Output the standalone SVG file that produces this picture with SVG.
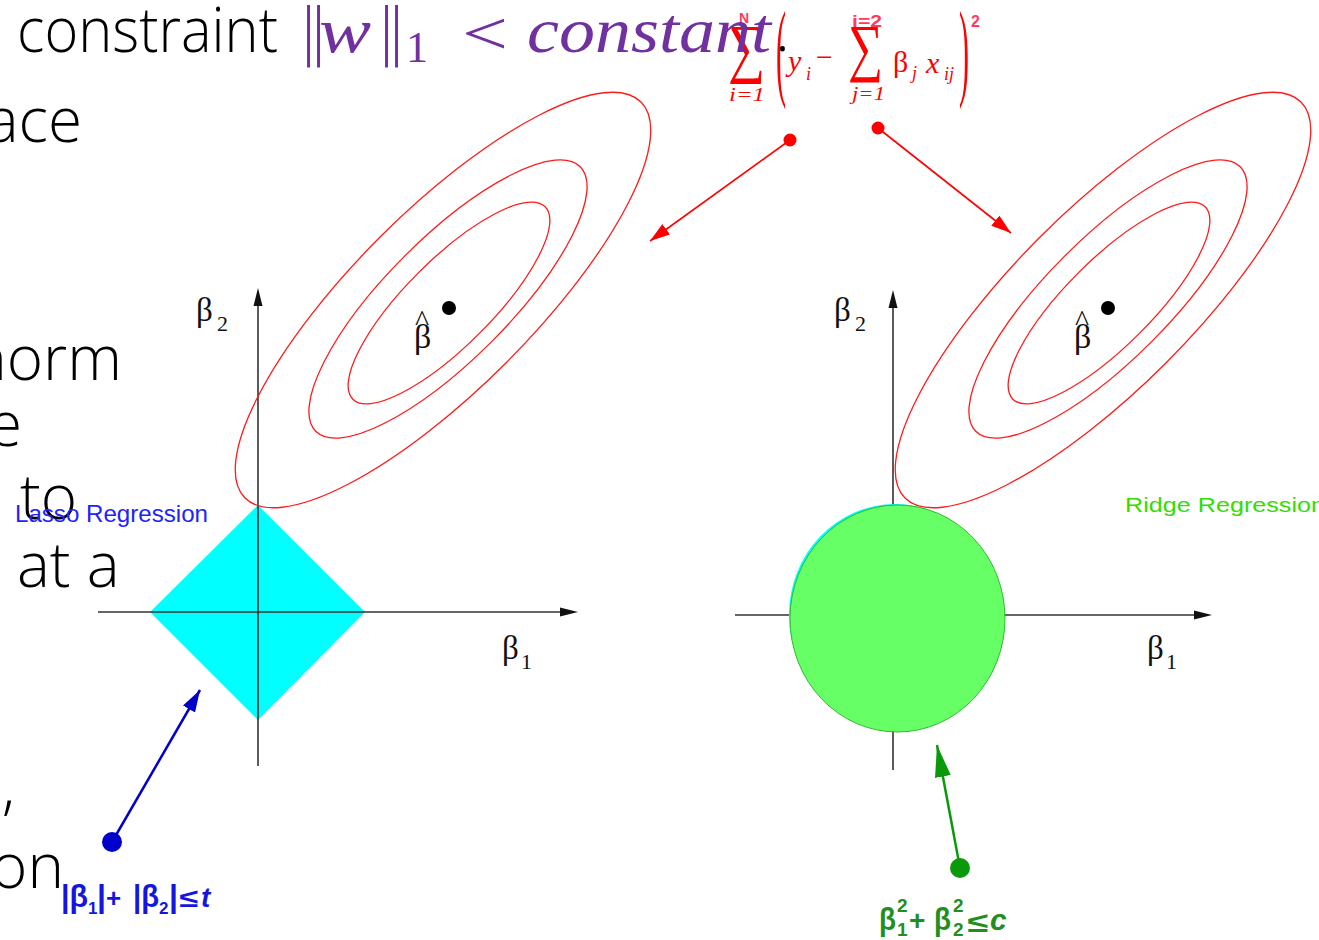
<svg xmlns="http://www.w3.org/2000/svg" width="1319" height="940" viewBox="0 0 1319 940">
<style>
.slide{font-family:"Open Sans","Liberation Sans",sans-serif;font-weight:300;font-size:62px;fill:#000}
.pur{font-family:"Liberation Serif",serif;fill:#7030A0}
.bar{font-family:"DejaVu Sans",sans-serif;font-weight:200;fill:#7030A0}
.red{font-family:"Liberation Serif",serif;fill:#ff0000}
.redb{font-family:"Liberation Sans",sans-serif;font-weight:bold;fill:#ff3a5c}
.ax{stroke:#333;stroke-width:1.6;fill:none}
.axh{fill:#111}
.ell{fill:none;stroke:#ff1a1a;stroke-width:1.3}
.gr{font-family:"Liberation Serif",serif;fill:#111}
.blue{font-family:"Liberation Sans",sans-serif;font-weight:bold;fill:#1515e0}
.green{font-family:"Liberation Sans",sans-serif;font-weight:bold;fill:#1f8f1f}
</style>
<defs>
<marker id="mRed" markerUnits="userSpaceOnUse" markerWidth="22" markerHeight="14" refX="20" refY="6.5" orient="auto"><path d="M0,0 L20,6.5 L0,13 z" fill="#ff0000"/></marker>
<marker id="mBlue" markerUnits="userSpaceOnUse" markerWidth="24" markerHeight="16" refX="22" refY="7" orient="auto"><path d="M0,0 L22,7 L0,14 z" fill="#0000cc"/></marker>
<marker id="mGreen" markerUnits="userSpaceOnUse" markerWidth="34" markerHeight="18" refX="32" refY="8" orient="auto"><path d="M0,0 L32,8 L0,16 z" fill="#0a990a"/></marker>
</defs>
<rect width="1319" height="940" fill="#fff"/>

<g id="slide-text">
<text class="slide" x="17" y="52" textLength="261" lengthAdjust="spacingAndGlyphs">constraint</text>
<text class="slide" x="82" y="142" text-anchor="end">ace</text>
<text class="slide" x="122" y="380" text-anchor="end">norm</text>
<text class="slide" x="22" y="446" text-anchor="end">e</text>
<text class="slide" x="20" y="519">to</text>
<text class="slide" x="17" y="587">at a</text>
<text class="slide" x="15" y="808" text-anchor="end">),</text>
<text class="slide" x="64" y="888" text-anchor="end">on</text>
</g>

<g id="rss-formula">
<text class="redb" x="739" y="23" font-size="14">N</text>
<text class="red" x="728" y="70" font-size="66" textLength="37" lengthAdjust="spacingAndGlyphs">∑</text>
<text class="red" x="729" y="101" font-size="18" font-style="italic" textLength="36" lengthAdjust="spacingAndGlyphs">i=1</text>
<text class="red" x="776" y="86" font-size="108" textLength="10" lengthAdjust="spacingAndGlyphs">(</text>
<text class="red" x="788" y="71" font-size="30" font-style="italic">y</text>
<text class="red" x="806" y="80" font-size="18" font-style="italic">i</text>
<text class="red" x="816" y="67" font-size="30">−</text>
<text class="redb" x="852" y="27" font-size="16" textLength="30" lengthAdjust="spacingAndGlyphs">i=2</text>
<text class="red" x="848" y="69" font-size="64" textLength="35" lengthAdjust="spacingAndGlyphs">∑</text>
<text class="red" x="852" y="100" font-size="18" font-style="italic" textLength="33" lengthAdjust="spacingAndGlyphs">j=1</text>
<text class="red" x="893" y="72" font-size="30">β</text>
<text class="red" x="912" y="79" font-size="18" font-style="italic">j</text>
<text class="red" x="926" y="73" font-size="30" font-style="italic">x</text>
<text class="red" x="944" y="80" font-size="18" font-style="italic">ij</text>
<text class="red" x="959" y="86" font-size="108" textLength="10" lengthAdjust="spacingAndGlyphs">)</text>
<text class="redb" x="971" y="27" font-size="16">2</text>
</g>

<g id="norm-constraint">
<text class="bar" x="298" y="52" font-size="62">‖</text>
<text class="pur" x="319" y="52" font-size="64" font-style="italic" textLength="52" lengthAdjust="spacingAndGlyphs">w</text>
<text class="bar" x="376" y="52" font-size="62">‖</text>
<text class="pur" x="406" y="62" font-size="44">1</text>
<text class="pur" x="462" y="54" font-size="62" textLength="46" lengthAdjust="spacingAndGlyphs">&lt;</text>
<text class="pur" x="527" y="52" font-size="64" font-style="italic" textLength="244" lengthAdjust="spacingAndGlyphs">constant</text>
<text class="slide" x="775" y="51" font-size="40">.</text>
</g>

<g id="lasso-panel">
<polygon points="258,505 365,612 258,720 150,612" fill="#00ffff"/>
<line class="ax" x1="258" y1="300" x2="258" y2="766"/>
<polygon class="axh" points="258,288 253.5,306 262.5,306"/>
<line class="ax" x1="98" y1="612" x2="565" y2="612"/>
<polygon class="axh" points="578,612 560,607.5 560,616.5"/>
<ellipse class="ell" cx="443" cy="300" rx="280" ry="89" transform="rotate(-45 443 300)"/>
<ellipse class="ell" cx="448" cy="299" rx="187" ry="61" transform="rotate(-45 448 299)"/>
<ellipse class="ell" cx="449" cy="303" rx="136" ry="43" transform="rotate(-45 449 303)"/>
<circle cx="449" cy="308" r="7" fill="#000"/>
<text class="gr" x="415" y="331" font-size="30">^</text>
<text class="gr" x="414" y="348" font-size="34">β</text>
<text class="gr" x="196" y="321" font-size="33">β</text>
<text class="gr" x="217" y="331" font-size="22">2</text>
<text class="gr" x="502" y="659" font-size="33">β</text>
<text class="gr" x="521" y="669" font-size="22">1</text>
</g>

<g id="ridge-panel">
<line class="ax" x1="893" y1="302" x2="893" y2="770"/>
<polygon class="axh" points="893,290 888.5,308 897.5,308"/>
<line class="ax" x1="735" y1="615" x2="1198" y2="615"/>
<polygon class="axh" points="1212,615 1194,610.5 1194,619.5"/>
<ellipse cx="895" cy="615" rx="106" ry="111" fill="#00ffff"/>
<ellipse cx="897.5" cy="618.5" rx="107.5" ry="113.5" fill="#66ff66" stroke="#2dbb2d" stroke-width="1"/>
<ellipse class="ell" cx="1103" cy="300" rx="280" ry="89" transform="rotate(-45 1103 300)"/>
<ellipse class="ell" cx="1108" cy="299" rx="187" ry="61" transform="rotate(-45 1108 299)"/>
<ellipse class="ell" cx="1109" cy="303" rx="136" ry="43" transform="rotate(-45 1109 303)"/>
<circle cx="1108" cy="308" r="7" fill="#000"/>
<text class="gr" x="1075" y="331" font-size="30">^</text>
<text class="gr" x="1074" y="348" font-size="34">β</text>
<text class="gr" x="834" y="321" font-size="33">β</text>
<text class="gr" x="855" y="331" font-size="22">2</text>
<text class="gr" x="1147" y="659" font-size="33">β</text>
<text class="gr" x="1166" y="669" font-size="22">1</text>
</g>

<g id="connectors">
<line x1="790" y1="140" x2="650" y2="241" stroke="#ff0000" stroke-width="1.6" marker-end="url(#mRed)"/>
<circle cx="790" cy="140" r="6.5" fill="#ff0000"/>
<line x1="878" y1="128" x2="1011" y2="233" stroke="#ff0000" stroke-width="1.6" marker-end="url(#mRed)"/>
<circle cx="878" cy="128" r="6.5" fill="#ff0000"/>
<line x1="112" y1="842" x2="200" y2="690" stroke="#0000cc" stroke-width="2.5" marker-end="url(#mBlue)"/>
<circle cx="112" cy="842" r="10" fill="#0000cc"/>
<line x1="960" y1="868" x2="937" y2="745" stroke="#0a990a" stroke-width="2.5" marker-end="url(#mGreen)"/>
<circle cx="960" cy="868" r="10" fill="#0a990a"/>
</g>

<g id="labels">
<text font-family="Liberation Sans, sans-serif" fill="#2222ff" x="15" y="522" font-size="24" textLength="193" lengthAdjust="spacingAndGlyphs">Lasso Regression</text>
<text font-family="Liberation Sans, sans-serif" fill="#33dd00" x="1125" y="512" font-size="21" textLength="200" lengthAdjust="spacingAndGlyphs">Ridge Regression</text>
</g>

<g id="lasso-constraint">
<text class="blue" x="61" y="907" font-size="32" textLength="27" lengthAdjust="spacingAndGlyphs">|β</text>
<text class="blue" x="88" y="914" font-size="17">1</text>
<text class="blue" x="97" y="907" font-size="32">|</text>
<text class="blue" x="106" y="907" font-size="26">+</text>
<text class="blue" x="133" y="907" font-size="32" textLength="26" lengthAdjust="spacingAndGlyphs">|β</text>
<text class="blue" x="159" y="914" font-size="17">2</text>
<text class="blue" x="169" y="907" font-size="32">|</text>
<text class="blue" x="179" y="907" font-size="26" textLength="19" lengthAdjust="spacingAndGlyphs">≤</text>
<text class="blue" x="201" y="907" font-size="28" font-style="italic">t</text>
</g>

<g id="ridge-constraint">
<text class="green" x="879" y="930" font-size="32" textLength="17" lengthAdjust="spacingAndGlyphs">β</text>
<text class="green" x="897" y="912" font-size="19">2</text>
<text class="green" x="897" y="936" font-size="19">1</text>
<text class="green" x="909" y="930" font-size="28">+</text>
<text class="green" x="934" y="930" font-size="32" textLength="17" lengthAdjust="spacingAndGlyphs">β</text>
<text class="green" x="953" y="912" font-size="19">2</text>
<text class="green" x="953" y="936" font-size="19">2</text>
<text class="green" x="967" y="932" font-size="28" textLength="21" lengthAdjust="spacingAndGlyphs">≤</text>
<text class="green" x="990" y="930" font-size="30" font-style="italic">c</text>
</g>
</svg>
